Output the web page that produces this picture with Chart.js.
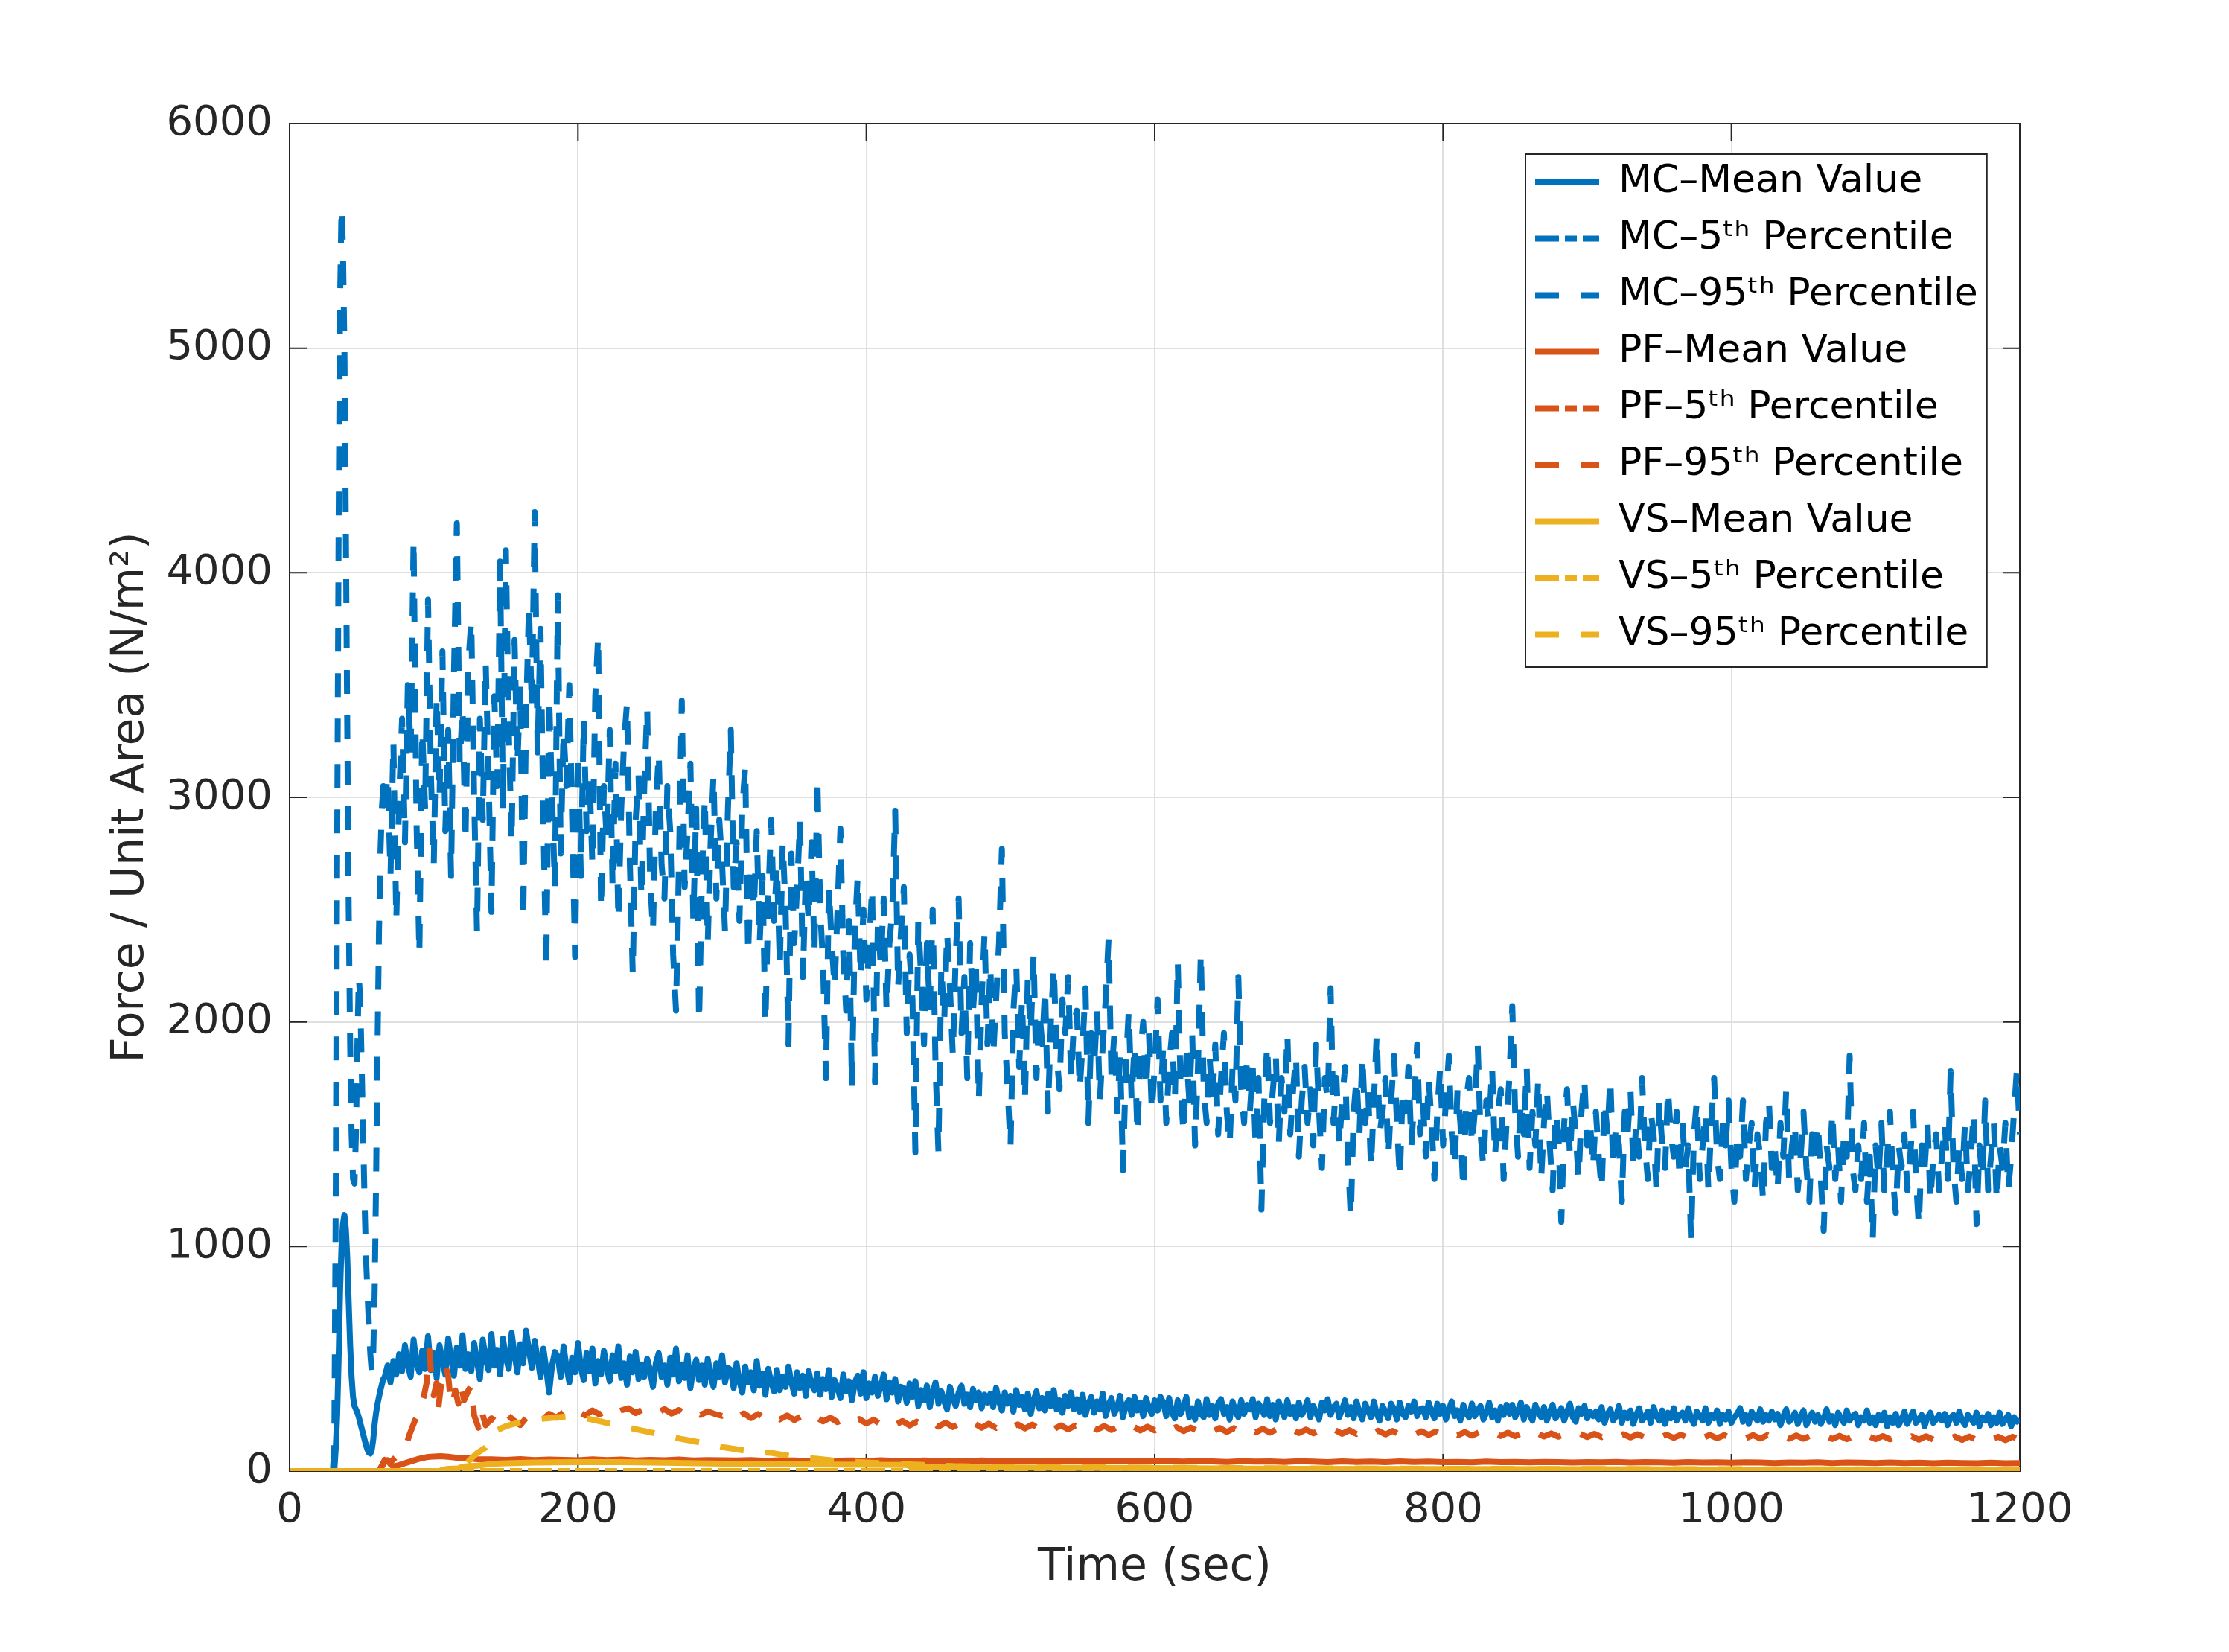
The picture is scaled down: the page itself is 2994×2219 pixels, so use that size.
<!DOCTYPE html>
<html>
<head>
<meta charset="utf-8">
<script src="https://cdn.jsdelivr.net/npm/chart.js@4.4.1/dist/chart.umd.min.js"></script>
<style>
html,body{margin:0;padding:0;background:#fff;}
#wrap{width:2994px;height:2219px;position:relative;}
</style>
</head>
<body>
<div id="wrap"><canvas id="c"></canvas></div>
<script>
// ---------------- DATA ----------------
const xTickValues = [0, 200, 400, 600, 800, 1000, 1200];
const yTickValues = [0, 1000, 2000, 3000, 4000, 5000, 6000];
const xTitle = 'Time (sec)';
const yTitle = 'Force / Unit Area (N/m²)';
const seriesNames = ['MC–Mean Value', 'MC–5ᵗʰ Percentile', 'MC–95ᵗʰ Percentile',
                     'PF–Mean Value', 'PF–5ᵗʰ Percentile', 'PF–95ᵗʰ Percentile',
                     'VS–Mean Value', 'VS–5ᵗʰ Percentile', 'VS–95ᵗʰ Percentile'];

// MC mean: early part (explicit times) + tail sampled every 2 s from t = 66
const mcMeanEarlyT = [0, 31, 32, 33, 34, 35, 36, 37, 38, 39, 40, 41, 42, 43, 44, 45, 46, 47, 48, 49, 50, 51, 52, 53, 54, 55, 56, 57, 58, 59, 60, 61, 62, 63, 64, 65];
const mcMeanEarlyV = [0, 0, 100, 250, 500, 800, 1000, 1100, 1140, 1080, 950, 750, 560, 420, 330, 290, 275, 260, 240, 215, 190, 165, 140, 115, 95, 82, 78, 95, 140, 210, 260, 300, 330, 360, 385, 410];
const mcTailStart = 66, mcTailStep = 2;
const mcMeanTailV = [
 420, 470, 395, 490, 430, 520, 445, 560, 470, 420, 585, 480, 440, 535, 455, 600, 450, 525, 415, 560, 490, 430, 590, 500, 425, 550, 470, 605, 455, 520,
 445, 570, 490, 410, 585, 500, 450, 610, 470, 540, 430, 590, 505, 455, 615, 520, 440, 565, 480, 625, 540, 460, 580, 500, 420, 545, 455, 350, 470, 530,
 510, 420, 555, 465, 395, 505, 440, 570, 460, 405, 525, 445, 545, 390, 490, 430, 535, 460, 400, 515, 445, 555, 415, 480, 385, 510, 440, 530, 410, 475,
 420, 500, 450, 375, 480, 525, 420, 470, 385, 505, 430, 545, 400, 475, 415, 515, 370, 455, 495, 405, 470, 385, 500, 425, 375, 480, 420, 515, 395, 460,
 450, 370, 480, 400, 350, 465, 395, 440, 360, 490, 380, 435, 340, 455, 395, 355, 450, 360, 420, 375, 465, 395, 345, 440, 370, 425, 335, 445, 385, 360,
 435, 340, 410, 365, 450, 330, 405, 370, 325, 430, 355, 400, 315, 395, 425, 345, 440, 325, 390, 350, 420, 335, 380, 430, 320, 395, 350, 410, 310, 375,
 370, 305, 390, 330, 400, 290, 360, 315, 380, 285, 350, 395, 300, 355, 310, 275, 375, 325, 290, 350, 380, 300, 340, 285, 365, 315, 350, 280, 340, 305,
 345, 285, 370, 310, 270, 350, 300, 335, 265, 360, 295, 330, 275, 345, 255, 315, 355, 280, 325, 270, 345, 290, 360, 275, 315, 260, 335, 290, 350, 275,
 320, 265, 340, 250, 300, 330, 260, 310, 275, 345, 245, 295, 325, 255, 285, 335, 240, 295, 315, 250, 330, 270, 305, 245, 325, 280, 255, 315, 270, 330,
 305, 245, 325, 260, 235, 315, 255, 290, 330, 240, 280, 230, 310, 255, 240, 320, 250, 290, 235, 300, 320, 255, 285, 230, 310, 265, 240, 315, 255, 295,
 275, 320, 240, 300, 280, 250, 320, 245, 295, 230, 310, 270, 240, 315, 255, 285, 235, 305, 250, 275, 315, 240, 290, 260, 230, 305, 270, 320, 250, 285,
 300, 240, 275, 315, 250, 285, 235, 310, 260, 230, 300, 270, 240, 310, 255, 225, 290, 265, 235, 300, 275, 230, 305, 255, 240, 290, 265, 310, 245, 275,
 280, 240, 305, 265, 235, 300, 255, 290, 230, 275, 310, 245, 270, 225, 295, 255, 240, 300, 245, 270, 290, 230, 260, 305, 240, 270, 225, 285, 250, 295,
 255, 295, 240, 270, 305, 230, 285, 250, 225, 295, 260, 240, 285, 225, 265, 295, 235, 255, 280, 225, 265, 300, 240, 220, 280, 255, 290, 235, 265, 245,
 265, 230, 285, 215, 255, 275, 225, 245, 290, 215, 260, 235, 270, 210, 250, 280, 225, 240, 265, 215, 285, 245, 225, 270, 210, 260, 235, 280, 225, 250,
 260, 225, 280, 235, 210, 265, 245, 225, 280, 215, 250, 235, 270, 210, 250, 230, 265, 215, 240, 255, 280, 220, 250, 210, 265, 240, 225, 275, 220, 250,
 225, 265, 230, 255, 205, 245, 275, 220, 235, 260, 210, 245, 270, 205, 235, 260, 220, 250, 210, 235, 275, 220, 245, 205, 260, 235, 215, 270, 225, 245,
 255, 205, 240, 225, 270, 215, 240, 205, 250, 225, 260, 200, 240, 215, 255, 205, 230, 265, 210, 240, 265, 215, 230, 250, 200, 240, 260, 215, 230, 250,
 225, 255, 205, 240, 250, 215, 265, 225, 205, 250, 235, 215, 260, 200, 240, 225, 255, 205, 240, 215, 260, 210, 230, 250, 200, 240, 220, 230
];

// MC 95th percentile
const mc95EarlyT = [0, 30, 31, 32, 33, 34, 35, 36, 37, 38, 39, 40, 41, 42, 43, 44, 45, 46, 47, 48, 49, 50, 51, 52, 53, 54, 55, 56, 57, 58, 59, 60, 61, 62, 63, 64, 65];
const mc95EarlyV = [0, 0, 100, 1200, 2800, 4200, 5200, 5630, 5450, 5000, 4200, 3300, 2500, 1900, 1500, 1300, 1280, 1500, 1900, 2200, 2100, 1800, 1500, 1200, 950, 800, 650, 520, 440, 520, 800, 1300, 1900, 2400, 2750, 2950, 3050];
const mc95TailV = [
 2950, 3100, 2650, 3250, 2450, 3000, 3350, 2800, 3500, 3200, 4150, 2900, 2300, 3300, 2950, 3880, 3100, 2700, 3450, 3000, 3650, 2850, 3300, 2650, 3550, 4220, 3150, 3400, 2800, 3600,
 3790, 3000, 2400, 3350, 2900, 3600, 3100, 2490, 3450, 3050, 4050, 2950, 4100, 3300, 2800, 3700, 3150, 3500, 2450, 3350, 3850, 3400, 4270, 3200, 3750, 2900, 2230, 3450, 3000, 2600,
 3900, 2750, 3300, 3050, 3500, 2900, 2290, 3200, 2650, 3350, 2850, 3100, 2700, 3450, 3720, 2500, 3050, 2800, 3300, 2600, 3150, 2450, 2950, 3250, 3420, 2700, 2210, 2900, 3100, 2550,
 3050, 3400, 2650, 2400, 2950, 3200, 2700, 2550, 3050, 2850, 2300, 2050, 2700, 3430, 2600, 2850, 3150, 2450, 2950, 2000, 2650, 3000, 2350, 2800, 3100, 2550, 2900, 2700, 2400, 2950,
 3300, 2600, 2800, 2450, 2950, 3140, 2300, 2700, 2500, 2850, 2350, 2650, 1990, 2550, 2900, 2450, 2700, 2250, 2800, 2500, 1900, 2750, 2350, 2600, 2900, 2200, 2650, 2450, 2800, 2300,
 3090, 2500, 2250, 1750, 2600, 2350, 2150, 2500, 2860, 2300, 2050, 2450, 1710, 2400, 2650, 2200, 2500, 2100, 2350, 2600, 1730, 2450, 2250, 2550, 2050, 2350, 2500, 2940, 2150, 2400,
 2600, 1950, 2300, 2100, 1420, 2450, 2200, 1900, 2350, 2050, 2500, 1800, 1420, 2250, 2000, 2400, 2150, 1850, 2300, 2550, 1950, 2200, 1750, 2350, 2050, 2250, 1650, 2100, 2400, 1900,
 2250, 1850, 2100, 2350, 2770, 1950, 1700, 1440, 2050, 2250, 1800, 2100, 1650, 2200, 1950, 2300, 1750, 2050, 1900, 2150, 1600, 2000, 2250, 1850, 1700, 2100, 1950, 2200, 1750, 2000,
 2050, 1700, 1900, 2150, 1550, 1950, 1800, 2050, 1650, 1900, 2100, 2370, 1750, 1950, 1600, 1850, 1340, 1800, 2050, 1650, 1900, 1500, 1850, 2000, 1700, 1950, 1600, 1800, 2100, 1650,
 1900, 1550, 1800, 1950, 1650, 2270, 1700, 1500, 1850, 1650, 1950, 1450, 1800, 2310, 1700, 1550, 1850, 1650, 1900, 1500, 1750, 1950, 1600, 1450, 1800, 1650, 2200, 1700, 1550, 1850,
 1600, 1800, 1450, 1750, 1165, 1650, 1900, 1550, 1700, 1850, 1450, 1750, 1600, 1950, 1500, 1700, 1850, 1400, 1650, 1800, 1550, 1700, 1450, 1900, 1600, 1350, 1750, 1650, 2150, 1550,
 1750, 1450, 1650, 1800, 1400, 1130, 1600, 1750, 1500, 1850, 1550, 1700, 1350, 1650, 1950, 1500, 1600, 1750, 1400, 1650, 1850, 1550, 1300, 1700, 1600, 1800, 1450, 1650, 1900, 1500,
 1650, 1400, 1750, 1550, 1300, 1600, 1800, 1450, 1650, 1850, 1500, 1350, 1700, 1550, 1250, 1650, 1750, 1450, 1600, 1900, 1500, 1350, 1650, 1550, 1800, 1400, 1600, 1700, 1300, 1550,
 1750, 2070, 1600, 1400, 1650, 1500, 1800, 1350, 1600, 1450, 1750, 1300, 1550, 1700, 1450, 1250, 1600, 1500, 1110, 1550, 1700, 1400, 1650, 1500, 1300, 1600, 1750, 1450, 1550, 1350,
 1600, 1400, 1250, 1650, 1500, 1750, 1350, 1550, 1450, 1200, 1600, 1500, 1700, 1350, 1550, 1400, 1750, 1450, 1300, 1600, 1500, 1250, 1650, 1450, 1350, 1700, 1500, 1400, 1600, 1300,
 1550, 1350, 1450, 1030, 1500, 1650, 1300, 1450, 1600, 1250, 1550, 1750, 1400, 1300, 1550, 1450, 1650, 1350, 1200, 1500, 1400, 1650, 1300, 1450, 1550, 1250, 1500, 1400, 1200, 1550,
 1650, 1350, 1450, 1250, 1550, 1400, 1700, 1300, 1450, 1550, 1250, 1400, 1600, 1350, 1200, 1500, 1400, 1550, 1300, 1070, 1450, 1350, 1600, 1300, 1450, 1200, 1500, 1400, 1850, 1350,
 1250, 1450, 1300, 1550, 1200, 1400, 1025, 1450, 1300, 1550, 1250, 1400, 1600, 1300, 1150, 1450, 1350, 1500, 1250, 1400, 1600, 1300, 1090, 1450, 1350, 1550, 1200, 1400, 1500, 1250,
 1400, 1550, 1300, 1780, 1350, 1200, 1450, 1300, 1550, 1250, 1400, 1600, 1100, 1450, 1300, 1650, 1250, 1400, 1550, 1200, 1450, 1350, 1550, 1250, 1400, 1600, 1790, 1500
];

// 5th percentiles (all lie on zero)
const mc5T = [0, 1200], mc5V = [0, 0];
const pf5T = [0, 1200], pf5V = [0, 0];
const vs5T = [0, 1200], vs5V = [0, 0];

// PF mean
const pfMeanEarlyT = [0, 62, 64, 66, 68, 70, 72, 75, 80, 85, 90, 95, 100, 105, 110, 115, 120, 125, 130];
const pfMeanEarlyV = [0, 0, 20, 40, 48, 30, 20, 25, 35, 45, 55, 62, 65, 66, 64, 60, 58, 56, 53];
const pfMeanTailStart = 140, pfMeanTailStep = 10;
const pfMeanTailV = [
 52, 50, 53, 49, 51, 50, 48, 52, 49, 51, 47, 50, 48, 51, 47, 49, 48,
 47, 49, 46, 48, 47, 45, 48, 46, 47, 45, 48, 46, 44, 47, 45, 46, 44, 47, 45, 46, 43, 45, 46, 44, 45, 43, 46, 44, 45, 43,
 44, 42, 45, 43, 41, 44, 42, 43, 41, 44, 42, 40, 43, 41, 42, 40, 43, 41, 42, 40, 41, 39, 42, 40, 41, 39, 41, 40, 38, 40,
 39, 41, 38, 40, 39, 37, 40, 38, 39, 37, 39, 38, 36, 38, 37, 39, 36, 38, 37, 36, 38, 36, 37, 35, 37, 36, 35, 37, 35, 36
];

// PF 95th percentile
const pf95EarlyT = [0, 62, 66, 70, 75, 79, 81, 83, 85, 87, 89, 91, 93, 95, 97, 98, 100, 102, 103, 105, 107, 108, 110, 112, 114, 115, 117, 119, 121, 124, 126, 128, 131, 133, 136];
const pf95EarlyV = [0, 0, 50, 40, 70, 94, 116, 160, 193, 226, 250, 293, 330, 392, 536, 448, 337, 392, 270, 381, 420, 470, 425, 293, 330, 359, 300, 381, 315, 359, 381, 249, 193, 271, 204];
const pf95TailStart = 140, pf95TailStep = 5;
const pf95TailV = [
 235, 212, 258, 228, 205, 244, 250, 226, 255, 238, 262, 243, 265,
 248, 270, 252, 275, 255, 270, 280, 258, 274, 283, 260, 276, 256, 272, 252, 270, 250, 266, 254, 246,
 262, 240, 257, 236, 254, 233, 250, 230, 248, 227, 245, 224, 241, 221, 238, 218, 235, 215, 232, 212,
 229, 208, 226, 205, 223, 203, 220, 200, 218, 198, 216, 196, 214, 195, 212, 193, 211, 192, 209, 191,
 208, 190, 207, 188, 206, 187, 204, 186, 203, 185, 202, 184, 201, 183, 200, 182, 199, 181, 198, 181,
 197, 179, 196, 178, 194, 177, 193, 175, 192, 174, 191, 173, 189, 172, 188, 171, 187, 170, 186, 169,
 185, 168, 184, 167, 183, 166, 182, 165, 181, 164, 180, 163, 179, 162, 178, 162, 177, 161, 176, 160,
 175, 159, 174, 158, 173, 157, 172, 156, 171, 155, 170, 154, 169, 154, 168, 153, 167, 152, 166, 151,
 166, 151, 165, 150, 164, 150, 164, 149, 163, 149, 162, 148, 162, 147, 161, 147, 161, 146, 160, 146,
 161, 146, 160, 145, 160, 145, 159, 144, 159, 144, 158, 143, 158, 143, 157, 142, 157, 142, 156, 142,
 156, 141, 156, 141, 155, 140, 155, 140, 154, 140, 154, 139, 154, 139, 153, 139, 153, 138, 153, 139
];

// VS mean and 95th percentile
const vsMeanT = [0, 104, 106, 110, 117, 120, 130, 140, 150, 170, 200, 230, 260, 300, 350, 400, 428, 432, 500, 600, 700, 800, 900, 1000, 1100, 1200];
const vsMeanV = [0, 0, 6, 10, 12, 20, 24, 32, 35, 38, 40, 40, 37, 33, 30, 28, 27, 17, 16, 13, 10, 9, 8, 7, 6, 5];
const vs95T = [0, 118, 122, 125, 130, 136, 140, 144, 150, 160, 174, 192, 200, 207, 215, 223, 239, 255, 271, 287, 302, 319, 335, 352, 366, 380, 400, 430, 460, 500, 600, 700, 800, 900, 1000, 1100, 1200];
const vs95V = [0, 0, 25, 50, 80, 105, 150, 182, 200, 218, 232, 243, 240, 233, 222, 210, 188, 166, 144, 125, 105, 88, 80, 62, 55, 45, 38, 30, 22, 19, 15, 12, 10, 9, 8, 7, 6];

// ---------------- STYLE ----------------
const FONT = "'DejaVu Sans', 'Noto Sans', sans-serif";
const BLUE = '#0072BD', ORANGE = '#D95319', YELLOW = '#EDB120';
const AXIS = '#262626';
const LW = 8;
const DASH = [32, 29];
const DASHDOT = [32, 8, 16, 8];

function pairs(ts, vs) { return ts.map((t, i) => ({x: t, y: vs[i]})); }
function regular(start, step, vs) { return vs.map((v, i) => ({x: start + i * step, y: v})); }

const seriesData = [
  pairs(mcMeanEarlyT, mcMeanEarlyV).concat(regular(mcTailStart, mcTailStep, mcMeanTailV)),
  pairs(mc5T, mc5V),
  pairs(mc95EarlyT, mc95EarlyV).concat(regular(mcTailStart, mcTailStep, mc95TailV)),
  pairs(pfMeanEarlyT, pfMeanEarlyV).concat(regular(pfMeanTailStart, pfMeanTailStep, pfMeanTailV)),
  pairs(pf5T, pf5V),
  pairs(pf95EarlyT, pf95EarlyV).concat(regular(pf95TailStart, pf95TailStep, pf95TailV)),
  pairs(vsMeanT, vsMeanV),
  pairs(vs5T, vs5V),
  pairs(vs95T, vs95V)
];
const seriesColors = [BLUE, BLUE, BLUE, ORANGE, ORANGE, ORANGE, YELLOW, YELLOW, YELLOW];
const seriesDash = [[], DASHDOT, DASH, [], DASHDOT, DASH, [], DASHDOT, DASH];

const datasets = seriesData.map((d, i) => ({
  label: seriesNames[i],
  data: d,
  borderColor: seriesColors[i],
  backgroundColor: seriesColors[i],
  borderWidth: LW,
  borderDash: seriesDash[i],
  borderJoinStyle: 'round',
  borderCapStyle: 'butt',
  pointRadius: 0,
  pointHoverRadius: 0,
  fill: false,
  tension: 0,
  order: seriesData.length - 1 - i
}));

// ---------------- PLUGINS ----------------
const LEG_LINE_X = 2062;      // left end of legend line samples
const LEG_FIRST_CY = 244.5;   // centre of first legend row

function drawLegendFrame(chart, lg) {
  const ctx = chart.ctx;
  const lo = lg.options.labels;
  const font = Chart.helpers.toFont(lo.font);
  const pad = lo.padding;
  const n = lg.legendItems ? lg.legendItems.length : 0;
  const x0 = lg.left + pad;
  const c0 = lg.top + pad + font.size / 2;
  const step = font.size + pad;
  ctx.save();
  ctx.font = font.string;
  let maxW = 0;
  (lg.legendItems || []).forEach(it => { maxW = Math.max(maxW, ctx.measureText(it.text).width); });
  const textX = x0 + lo.pointStyleWidth + font.size / 2;
  const bx = x0 - 13, by = c0 - 37.5;
  const bw = textX + maxW + 12 - bx;
  const bh = (n - 1) * step + 81;
  ctx.fillStyle = '#ffffff';
  ctx.fillRect(bx, by, bw, bh);
  ctx.strokeStyle = AXIS;
  ctx.lineWidth = 2;
  ctx.strokeRect(bx, by, bw, bh);
  ctx.restore();
}

const legendPlace = {
  id: 'legendPlace',
  afterLayout(chart) {
    const lg = chart.legend;
    if (!lg) return;
    const lo = lg.options.labels;
    const pad = lo.padding;
    const fs = Chart.helpers.toFont(lo.font).size;
    lg.left = LEG_LINE_X - pad;
    lg.top = LEG_FIRST_CY - fs / 2 - pad;
    lg.width = 900; lg.height = 1000;
    lg.right = lg.left + lg.width;
    lg.bottom = lg.top + lg.height;
    if (!lg.__framed) {
      const orig = lg.draw;
      lg.draw = function (area) { drawLegendFrame(chart, this); return orig.call(this, area); };
      lg.__framed = true;
    }
  }
};

const axesFrame = {
  id: 'axesFrame',
  beforeDatasetsDraw(chart) {
    const {ctx, chartArea: a, scales} = chart;
    const x = scales.x, y = scales.y;
    const L = 23;
    ctx.save();
    ctx.strokeStyle = AXIS;
    ctx.lineWidth = 2;
    ctx.beginPath();
    x.ticks.forEach(t => {
      const px = x.getPixelForValue(t.value);
      ctx.moveTo(px, a.bottom); ctx.lineTo(px, a.bottom - L);
      ctx.moveTo(px, a.top); ctx.lineTo(px, a.top + L);
    });
    y.ticks.forEach(t => {
      const py = y.getPixelForValue(t.value);
      ctx.moveTo(a.left, py); ctx.lineTo(a.left + L, py);
      ctx.moveTo(a.right, py); ctx.lineTo(a.right - L, py);
    });
    ctx.stroke();
    ctx.strokeRect(a.left, a.top, a.right - a.left, a.bottom - a.top);
    ctx.restore();
  }
};

// ---------------- CHART ----------------
new Chart(document.getElementById('c'), {
  type: 'line',
  data: { datasets },
  plugins: [legendPlace, axesFrame],
  options: {
    responsive: true,
    maintainAspectRatio: false,
    animation: false,
    events: [],
    layout: { padding: { left: 0, top: 166, right: 281, bottom: 0 } },
    plugins: {
      tooltip: { enabled: false },
      legend: {
        position: 'chartArea',
        align: 'start',
        labels: {
          usePointStyle: true,
          pointStyleWidth: 86,
          padding: 24,
          color: '#000000',
          font: { family: FONT, size: 52, weight: 'normal' },
          generateLabels: (chart) => chart.data.datasets.map((ds, i) => ({
            text: ds.label,
            fillStyle: ds.borderColor,
            strokeStyle: ds.borderColor,
            lineWidth: LW,
            lineDash: ds.borderDash,
            lineCap: 'butt',
            pointStyle: 'line',
            hidden: false,
            datasetIndex: i,
            fontColor: '#000000'
          }))
        }
      }
    },
    scales: {
      x: {
        type: 'linear',
        min: 0, max: 1200,
        afterBuildTicks: (s) => { s.ticks = xTickValues.map(v => ({ value: v })); },
        afterFit: (s) => { s.height = 243; },
        grid: { color: '#dfdfdf', lineWidth: 2, drawTicks: false },
        border: { display: false },
        ticks: {
          padding: 20, color: AXIS, autoSkip: false, maxRotation: 0,
          font: { family: FONT, size: 56, weight: 'normal' },
          callback: (v) => String(v)
        },
        title: {
          display: true, text: xTitle, color: AXIS,
          font: { family: FONT, size: 60, weight: 'normal' },
          padding: { top: 0, bottom: 77 }
        }
      },
      y: {
        type: 'linear',
        min: 0, max: 6000,
        afterBuildTicks: (s) => { s.ticks = yTickValues.map(v => ({ value: v })); },
        afterFit: (s) => { s.width = 389; },
        grid: { color: '#dfdfdf', lineWidth: 2, drawTicks: false },
        border: { display: false },
        ticks: {
          padding: 23, color: AXIS, autoSkip: false,
          font: { family: FONT, size: 56, weight: 'normal' },
          callback: (v) => String(v)
        },
        title: {
          display: true, text: yTitle, color: AXIS,
          font: { family: FONT, size: 60, weight: 'normal' },
          padding: { top: 140, bottom: 0 }
        }
      }
    }
  }
});
</script>
</body>
</html>
